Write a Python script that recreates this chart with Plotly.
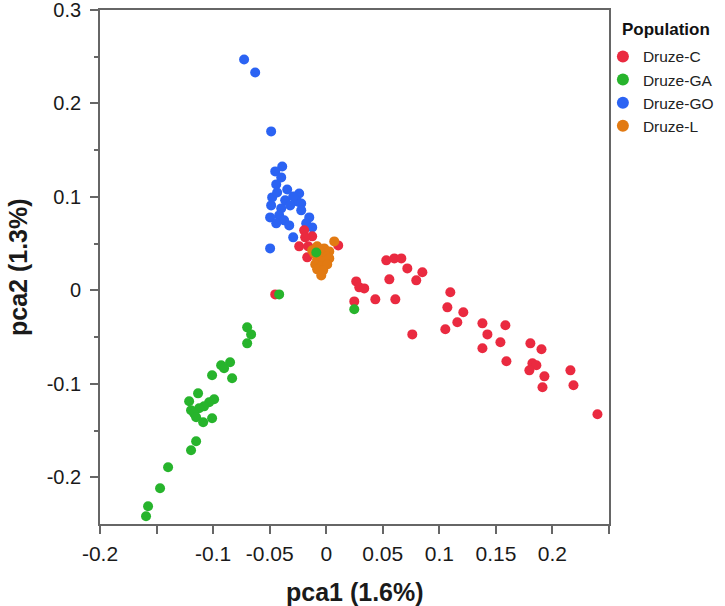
import plotly.graph_objects as go

# ---- data ----
druze_c_x = [-0.0451, -0.0195, -0.0124, -0.0186, -0.0239, -0.0159, -0.0168, 0.0106, 0.0531, 0.0602,
             0.0664, 0.0717, 0.0850, 0.0558, 0.0796, 0.0265, 0.0292, 0.0336, 0.0248, 0.0434,
             0.0611, 0.1097, 0.1071, 0.1212, 0.1159, 0.1053, 0.1381, 0.1425, 0.1381, 0.1584,
             0.1540, 0.1593, 0.1805, 0.1903, 0.1823, 0.1858, 0.1796, 0.1929, 0.1912, 0.2159,
             0.2186, 0.2398, 0.0761]
druze_c_y = [-0.0043, 0.0642, 0.0578, 0.0567, 0.0471, 0.0471, 0.0353, 0.0481, 0.0321, 0.0342,
             0.0342, 0.0235, 0.0193, 0.0118, 0.0107, 0.0096, 0.0032, 0.0021, -0.0118, -0.0096,
             -0.0096, -0.0021, -0.0182, -0.0235, -0.0342, -0.0417, -0.0353, -0.0471, -0.0620, -0.0374,
             -0.0556, -0.0759, -0.0567, -0.0631, -0.0781, -0.0802, -0.0856, -0.0920, -0.1037, -0.0856,
             -0.1016, -0.1326, -0.0471]

druze_ga_x = [-0.0699, -0.0664, -0.0699, -0.0850, -0.0929, -0.0903, -0.1009, -0.0832, -0.1133, -0.1212,
              -0.0991, -0.1035, -0.1080, -0.1124, -0.1195, -0.1168, -0.1150, -0.1009, -0.1088, -0.1150,
              -0.1195, -0.1398, -0.1469, -0.1575, -0.1593, -0.0088, -0.0416, 0.0248]
druze_ga_y = [-0.0396, -0.0471, -0.0567, -0.0770, -0.0802, -0.0834, -0.0909, -0.0941, -0.1102, -0.1187,
              -0.1166, -0.1198, -0.1241, -0.1262, -0.1283, -0.1316, -0.1358, -0.1369, -0.1412, -0.1615,
              -0.1711, -0.1893, -0.2118, -0.2310, -0.2417, 0.0406, -0.0043, -0.0203]

druze_go_x = [-0.0726, -0.0628, -0.0487, -0.0389, -0.0451, -0.0398, -0.0442, -0.0345, -0.0478, -0.0363,
              -0.0239, -0.0257, -0.0221, -0.0487, -0.0398, -0.0221, -0.0496, -0.0416, -0.0372, -0.0150,
              -0.0327, -0.0177, -0.0442, -0.0124, -0.0292, -0.0496, -0.0292, -0.0319, -0.0434]
druze_go_y = [0.2471, 0.2332, 0.1701, 0.1326, 0.1273, 0.1209, 0.1134, 0.1080, 0.0995, 0.0963,
              0.1037, 0.0952, 0.0930, 0.0909, 0.0877, 0.0856, 0.0781, 0.0802, 0.0749, 0.0781,
              0.0695, 0.0717, 0.0717, 0.0674, 0.0567, 0.0449, 0.1005, 0.0909, 0.1048]

druze_l_x = [0.0071, -0.0080, -0.0018, 0.0027, -0.0106, -0.0044, 0.0009, -0.0080, -0.0027, 0.0027,
             -0.0097, -0.0044, 0.0009, -0.0080, -0.0027, -0.0044, -0.0124, -0.0062]
druze_l_y = [0.0524, 0.0471, 0.0449, 0.0417, 0.0396, 0.0385, 0.0364, 0.0332, 0.0310, 0.0342,
             0.0278, 0.0257, 0.0278, 0.0225, 0.0214, 0.0160, 0.0428, 0.0428]

x_tickvals = [-0.2, -0.15, -0.1, -0.05, 0, 0.05, 0.1, 0.15, 0.2, 0.25]
x_ticktext = ["-0.2", "", "-0.1", "-0.05", "0", "0.05", "0.1", "0.15", "0.2", ""]
y_tickvals = [-0.2, -0.1, 0, 0.1, 0.2, 0.3]
y_ticktext = ["-0.2", "-0.1", "0", "0.1", "0.2", "0.3"]
y_minor = [-0.15, -0.05, 0.05, 0.15, 0.25]

series = [
    ("Druze-C", druze_c_x, druze_c_y, "#EA2A40"),
    ("Druze-GA", druze_ga_x, druze_ga_y, "#27B42C"),
    ("Druze-GO", druze_go_x, druze_go_y, "#2B63F3"),
    ("Druze-L", druze_l_x, druze_l_y, "#E27A12"),
]

FONT = "Liberation Sans, Arial, Helvetica, sans-serif"
AX = "#666666"
TXT = "#1a1a1a"

fig = go.Figure()
draw_order = [2, 0, 3, 1]  # blue under red under orange under green
for i in draw_order:
    name, xs, ys, col = series[i]
    fig.add_trace(go.Scatter(
        x=xs, y=ys, mode="markers", name=name,
        marker=dict(color=col, size=10, line=dict(width=0)),
        legendrank=i + 1,
    ))

fig.update_layout(
    width=725, height=606,
    margin=dict(l=100, r=116, t=10, b=82, autoexpand=False),
    paper_bgcolor="white", plot_bgcolor="white",
    font=dict(family=FONT, color=TXT, size=20),
    showlegend=True,
    legend=dict(
        x=0.988, xanchor="left", y=0.942, yanchor="top",
        font=dict(size=15.5, color="#222"),
        itemsizing="constant", itemwidth=30,
        tracegroupgap=0,
        bgcolor="rgba(0,0,0,0)",
    ),
    xaxis=dict(
        range=[-0.2, 0.25], tickvals=x_tickvals, ticktext=x_ticktext,
        ticks="outside", ticklen=8, tickwidth=1.8, tickcolor=AX,
        showline=True, linecolor=AX, linewidth=1.8, mirror=True,
        showgrid=False, zeroline=False, automargin=False,
        ticklabelstandoff=2, ticklabeloverflow="allow",
        tickfont=dict(size=21, color=TXT),
    ),
    yaxis=dict(
        range=[-0.25, 0.3], tickvals=y_tickvals, ticktext=y_ticktext,
        ticks="outside", ticklen=8, tickwidth=1.8, tickcolor=AX,
        minor=dict(tickvals=y_minor, ticks="outside", ticklen=4,
                   tickwidth=1.8, tickcolor=AX, showgrid=False),
        showline=True, linecolor=AX, linewidth=1.8, mirror=True,
        showgrid=False, zeroline=False, automargin=False,
        ticklabelstandoff=5, ticklabeloverflow="allow",
        tickfont=dict(size=20, color=TXT),
    ),
    annotations=[
        dict(text="<b>pca1 (1.6%)</b>", xref="paper", yref="paper", x=0.5, y=0,
             xanchor="center", yanchor="middle", yshift=-68, showarrow=False,
             font=dict(size=25, color=TXT)),
        dict(text="<b>pca2 (1.3%)</b>", xref="paper", yref="paper", x=0, y=0.5,
             xanchor="center", yanchor="middle", xshift=-82, textangle=-90, showarrow=False,
             font=dict(size=25, color=TXT)),
        dict(text="<b>Population</b>", xref="paper", yref="paper", x=1.0216, y=0.963,
             xanchor="left", yanchor="middle", showarrow=False,
             font=dict(size=17, color="#111")),
    ],
)

fig.write_html("out.html", config={"displayModeBar": False},
               post_script="document.body.style.margin='0';document.body.style.overflow='hidden';")
